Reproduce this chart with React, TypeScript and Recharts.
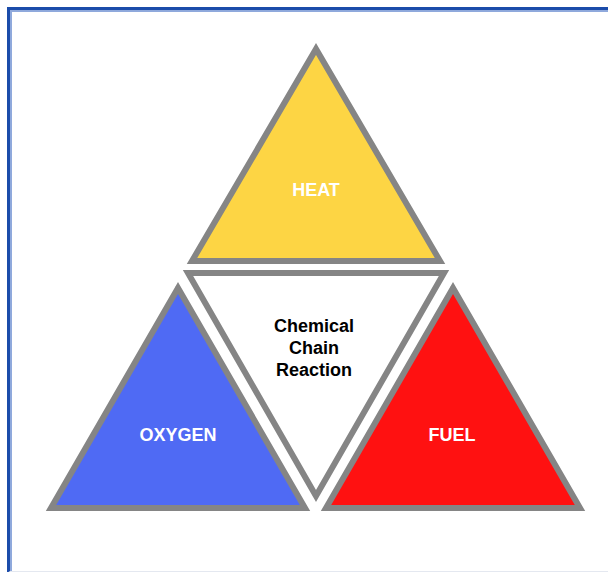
import { ComposedChart, Area, Scatter, XAxis, YAxis } from 'recharts';

// triangle vertices (diagram units = pixels of the 608x572 sheet)
const heat = [{ x: 192, y: 261 }, { x: 316, y: 49 }, { x: 440, y: 261 }];
const chain = [{ x: 188, y: 273 }, { x: 316, y: 496 }, { x: 444, y: 273 }];
const oxygen = [{ x: 51, y: 508 }, { x: 178, y: 288 }, { x: 305, y: 508 }];
const fuel = [{ x: 326, y: 508 }, { x: 453, y: 288 }, { x: 580, y: 508 }];

const labels = [
    { x: 316, y: 196, text: 'HEAT', color: '#ffffff' },
    { x: 178, y: 441, text: 'OXYGEN', color: '#ffffff' },
    { x: 452, y: 441, text: 'FUEL', color: '#ffffff' },
    { x: 314, y: 332, text: 'Chemical', color: '#000000' },
    { x: 314, y: 354, text: 'Chain', color: '#000000' },
    { x: 314, y: 376, text: 'Reaction', color: '#000000' },
];

const closed = (pts: { x: number, y: number }[]) => [...pts, pts[0], pts[1]];

const shapes = [
    { name: 'heat', pts: heat, base: 261, fill: '#fdd544' },
    { name: 'chain', pts: chain, base: 273, fill: '#ffffff' },
    { name: 'oxygen', pts: oxygen, base: 508, fill: '#4f6af4' },
    { name: 'fuel', pts: fuel, base: 508, fill: '#ff1111' },
];

function LabelText(props: any) {
    const { cx, cy, payload } = props;
    return (
        <text x={cx} y={cy} textAnchor="middle" fill={payload.color}
            fontFamily="'Liberation Sans', Arial, sans-serif" fontWeight="bold" fontSize={18}>
            {payload.text}
        </text>
    );
}

export default function App() {
    return (
        <div style={{ position: 'absolute', left: 0, top: 0, width: 608, height: 572, background: '#fff' }}>
            <div style={{
                position: 'absolute', left: 7, top: 7, width: 601, height: 561,
                borderTop: '3px solid #1b4caa', borderLeft: '3px solid #1b4caa',
                borderBottom: '2px solid #e4e8f0',
            }}>
                <div style={{ position: 'absolute', left: 0, top: 0, right: 0, bottom: 0, borderTop: '2px solid #8fa9dc', borderLeft: '2px solid #8fa9dc' }} />
            </div>
            <div style={{ position: 'absolute', left: 0, top: 0 }}>
                <ComposedChart width={608} height={572} margin={{ top: 0, right: 0, bottom: 0, left: 0 }}>
                    <XAxis type="number" dataKey="x" domain={[0, 608]} hide />
                    <YAxis type="number" domain={[0, 572]} reversed hide />
                    {shapes.map((s) => (
                        <Area key={s.name} data={closed(s.pts)} dataKey="y" type="linear"
                            baseValue={s.base} fill={s.fill} fillOpacity={1}
                            stroke="#858585" strokeWidth={6} dot={false} activeDot={false}
                            isAnimationActive={false} />
                    ))}
                    <Scatter data={labels} dataKey="y" shape={<LabelText />} isAnimationActive={false} />
                </ComposedChart>
            </div>
        </div>
    );
}
